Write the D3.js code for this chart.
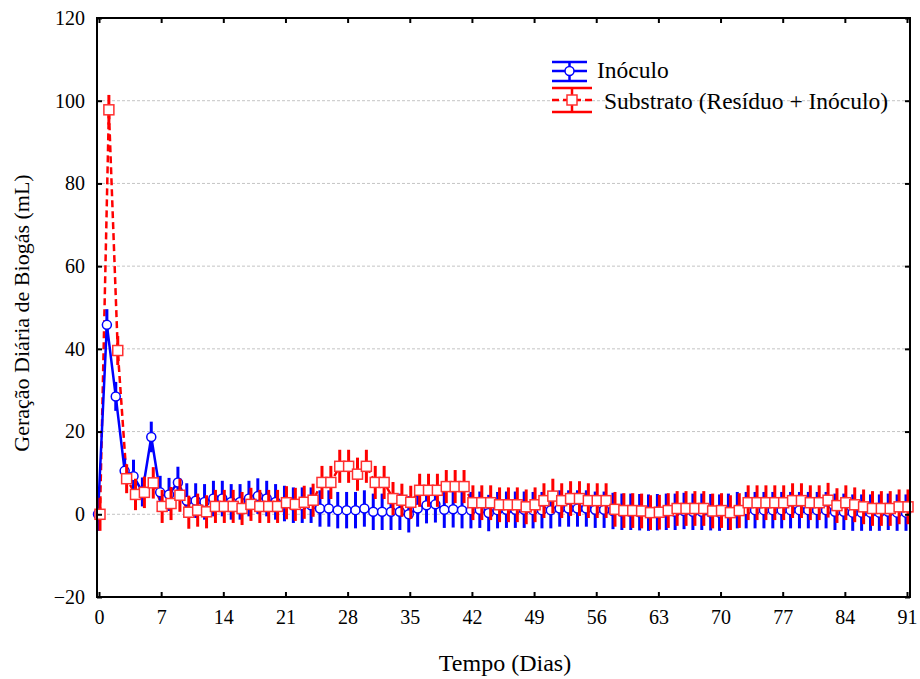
<!DOCTYPE html>
<html>
<head>
<meta charset="utf-8">
<script src="https://cdn.jsdelivr.net/npm/d3@7"></script>
<style>
  body { margin: 0; background: #fff; }
  svg { display: block; font-family: "Liberation Serif", "Times New Roman", serif; }
</style>
</head>
<body>
<svg id="chart" width="920" height="679"></svg>
<script>
// Days 0..91
const days = d3.range(0, 92);

// Inóculo (blue) daily biogas, mL
const inoculo = [
  0, 45.8, 28.5, 10.5, 9.2, 5.4, 18.7, 5.3, 4.8, 7.7,
  3.3, 3.3, 3.0, 3.8, 3.8, 3.0, 3.0, 3.8, 4.4, 3.8,
  3.0, 2.6, 2.2, 2.2, 2.2, 1.4, 1.4, 1.0, 1.0, 1.0,
  1.4, 0.6, 0.6, 0.6, 0.6, 0.0, 1.4, 2.2, 2.4, 1.1,
  1.2, 1.0, 1.0, 1.1, 0.3, 1.0, 1.1, 1.1, 1.1, 1.0,
  1.0, 1.0, 1.4, 1.4, 1.4, 1.4, 1.1, 1.1, 0.8, 0.6,
  0.6, 0.5, 0.4, 0.5, 0.6, 0.6, 0.8, 0.6, 0.6, 0.5,
  0.4, 0.6, 1.0, 1.0, 1.0, 1.0, 1.0, 1.0, 1.0, 1.0,
  1.0, 1.0, 1.0, 0.6, 0.6, 0.4, 0.4, 0.4, 0.4, 0.6,
  0.4, 0.4
];
const inoculoErr = [
  4.0, 3.8, 3.5, 3.0, 4.0, 3.5, 3.7, 4.0, 4.0, 3.8,
  4.2, 4.2, 4.3, 4.3, 4.3, 4.3, 4.3, 4.3, 4.3, 4.3,
  4.3, 4.3, 4.3, 4.3, 4.3, 4.4, 4.4, 4.4, 4.4, 4.4,
  4.4, 4.4, 4.4, 4.4, 4.4, 4.4, 4.4, 4.4, 4.4, 4.4,
  4.4, 4.4, 4.4, 4.4, 4.4, 4.4, 4.4, 4.4, 4.4, 4.4,
  4.4, 4.4, 4.4, 4.4, 4.4, 4.4, 4.4, 4.4, 4.4, 4.4,
  4.4, 4.4, 4.4, 4.4, 4.4, 4.4, 4.4, 4.4, 4.4, 4.4,
  4.4, 4.4, 4.4, 4.4, 4.4, 4.4, 4.4, 4.4, 4.4, 4.4,
  4.4, 4.4, 4.4, 4.4, 4.4, 4.4, 4.4, 4.4, 4.4, 4.4,
  4.4, 4.4
];

// Substrato (Resíduo + Inóculo) (red)
const substrato = [
  0, 97.8, 39.6, 8.6, 4.8, 5.3, 7.6, 1.9, 2.6, 4.6,
  0.5, 1.0, 0.6, 1.9, 1.9, 1.9, 1.4, 2.4, 1.9, 1.9,
  1.9, 2.8, 2.4, 2.9, 3.4, 7.7, 7.7, 11.6, 11.6, 9.7,
  11.6, 7.7, 7.7, 3.8, 3.4, 2.9, 5.8, 5.8, 5.8, 6.7,
  6.7, 6.7, 2.8, 2.8, 2.8, 2.3, 2.3, 2.3, 1.8, 2.3,
  3.3, 4.4, 3.3, 3.8, 3.8, 3.3, 3.3, 3.3, 1.2, 0.9,
  0.9, 0.8, 0.4, 0.5, 0.9, 1.4, 1.4, 1.4, 1.4, 0.8,
  0.9, 0.4, 0.9, 2.8, 2.8, 2.8, 2.8, 2.8, 3.3, 3.3,
  2.8, 2.8, 3.4, 2.1, 2.8, 2.3, 1.8, 1.4, 1.4, 1.4,
  1.8, 1.8
];
const substratoErr = [
  4.0, 3.6, 3.5, 3.5, 3.8, 3.8, 3.8, 4.0, 4.0, 4.0,
  4.0, 4.0, 4.0, 4.0, 4.0, 4.0, 4.0, 4.0, 4.0, 4.0,
  4.0, 4.0, 4.0, 4.0, 4.0, 4.0, 4.0, 4.0, 4.0, 4.0,
  4.0, 4.0, 4.0, 4.0, 4.0, 4.0, 4.0, 4.0, 4.0, 4.0,
  4.0, 4.0, 4.2, 4.2, 4.2, 4.2, 4.2, 4.2, 4.2, 4.2,
  4.2, 4.2, 4.2, 4.2, 4.2, 4.2, 4.2, 4.2, 4.2, 4.2,
  4.2, 4.2, 4.2, 4.2, 4.2, 4.2, 4.2, 4.2, 4.2, 4.2,
  4.2, 4.2, 4.2, 4.2, 4.2, 4.2, 4.2, 4.2, 4.2, 4.2,
  4.2, 4.2, 4.2, 4.2, 4.2, 4.2, 4.2, 4.2, 4.2, 4.2,
  4.2, 4.2
];

const xTicks = d3.range(0, 92, 7);
const yTicks = [-20, 0, 20, 40, 60, 80, 100, 120];

const seriesNames = ['Inóculo', 'Substrato (Resíduo + Inóculo)'];

// Layout
const frame = {left: 97, right: 910, top: 18, bottom: 597};

const svg = d3.select('#chart');

const x = d3.scaleLinear().domain([0, 91]).range([99, 907]);
const y = d3.scaleLinear().domain([-20, 120]).range([frame.bottom, frame.top]);

// Grid lines
svg.append('g')
  .selectAll('line')
  .data(yTicks.filter(t => t > -20 && t < 120))
  .join('line')
    .attr('x1', frame.left).attr('x2', frame.right)
    .attr('y1', d => y(d)).attr('y2', d => y(d))
    .attr('stroke', '#c4c4c4')
    .attr('stroke-width', 1)
    .attr('stroke-dasharray', '3,2');

// Series drawing
const blue = '#0000ff';
const red = '#ff0000';

const blueData = days.map((d, i) => ({d, v: inoculo[i], e: inoculoErr[i]}));
const redData = days.map((d, i) => ({d, v: substrato[i], e: substratoErr[i]}));

const bx = d => x(d.d) - 1;
const rx = d => x(d.d) + 1;

const plot = svg.append('g');

// red dashed line underneath
plot.append('path')
  .datum(redData)
  .attr('fill', 'none')
  .attr('stroke', red)
  .attr('stroke-width', 2.5)
  .attr('stroke-dasharray', '7,4')
  .attr('d', d3.line().x(rx).y(d => y(d.v)));

// blue error bars + line + markers
plot.append('g')
  .selectAll('line')
  .data(blueData)
  .join('line')
    .attr('x1', bx).attr('x2', bx)
    .attr('y1', d => y(d.v - d.e)).attr('y2', d => y(d.v + d.e))
    .attr('stroke', blue)
    .attr('stroke-width', 3);

plot.append('path')
  .datum(blueData)
  .attr('fill', 'none')
  .attr('stroke', blue)
  .attr('stroke-width', 2.5)
  .attr('d', d3.line().x(bx).y(d => y(d.v)));

plot.append('g')
  .selectAll('circle')
  .data(blueData)
  .join('circle')
    .attr('cx', bx).attr('cy', d => y(d.v))
    .attr('r', 4.5)
    .attr('fill', '#fff')
    .attr('stroke', blue)
    .attr('stroke-width', 1.5);

// red error bars + markers
plot.append('g')
  .selectAll('line')
  .data(redData)
  .join('line')
    .attr('x1', rx).attr('x2', rx)
    .attr('y1', d => y(d.v - d.e)).attr('y2', d => y(d.v + d.e))
    .attr('stroke', red)
    .attr('stroke-width', 3);

plot.append('g')
  .selectAll('rect')
  .data(redData)
  .join('rect')
    .attr('x', d => rx(d) - 5).attr('y', d => y(d.v) - 5)
    .attr('width', 10).attr('height', 10)
    .attr('fill', '#fff')
    .attr('stroke', '#ff3030')
    .attr('stroke-width', 1.5);

// Frame
svg.append('rect')
  .attr('x', frame.left).attr('y', frame.top)
  .attr('width', frame.right - frame.left)
  .attr('height', frame.bottom - frame.top)
  .attr('fill', 'none')
  .attr('stroke', '#000')
  .attr('stroke-width', 2);

// Axes (ticks inward)
const yAxisL = svg.append('g')
  .attr('transform', `translate(${frame.left},0)`)
  .call(d3.axisLeft(y).tickValues(yTicks).tickSize(-5).tickPadding(12).tickFormat(d3.format('d')));
const yAxisR = svg.append('g')
  .attr('transform', `translate(${frame.right},0)`)
  .call(d3.axisRight(y).tickValues(yTicks).tickSize(-5).tickFormat(''));
const xAxisB = svg.append('g')
  .attr('transform', `translate(0,${frame.bottom})`)
  .call(d3.axisBottom(x).tickValues(xTicks).tickSize(-5).tickPadding(13));
const xAxisT = svg.append('g')
  .attr('transform', `translate(0,${frame.top})`)
  .call(d3.axisTop(x).tickValues(xTicks).tickSize(-5).tickFormat(''));

[yAxisL, yAxisR, xAxisB, xAxisT].forEach(g => {
  g.select('.domain').remove();
  g.selectAll('.tick line').attr('stroke', '#000').attr('stroke-width', 2);
  g.selectAll('text')
    .attr('fill', '#000')
    .style('font-family', '"Liberation Serif", "Times New Roman", serif')
    .style('font-size', '20px');
});

// Axis titles
svg.append('text')
  .attr('x', 505).attr('y', 671)
  .attr('text-anchor', 'middle')
  .style('font-size', '24px')
  .text('Tempo (Dias)');

svg.append('text')
  .attr('transform', 'translate(29,313) rotate(-90)')
  .attr('text-anchor', 'middle')
  .style('font-size', '22px')
  .text('Geração Diária de Biogás (mL)');

// Legend
const legend = svg.append('g');
const leg = [
  {name: seriesNames[0], color: blue, cy: 71, capTop: 62, capBot: 81, x1: 552, x2: 587, dash: null, mark: 'circle', tx: 597, ty: 78},
  {name: seriesNames[1], color: red, cy: 100, capTop: 88, capBot: 112, x1: 552, x2: 592, dash: '7,4', mark: 'rect', tx: 604, ty: 109}
];
leg.forEach(l => {
  const g = legend.append('g');
  const mx = (l.x1 + l.x2) / 2;
  g.append('line').attr('x1', l.x1).attr('x2', l.x2).attr('y1', l.capTop).attr('y2', l.capTop)
    .attr('stroke', l.color).attr('stroke-width', 2.5);
  g.append('line').attr('x1', l.x1).attr('x2', l.x2).attr('y1', l.capBot).attr('y2', l.capBot)
    .attr('stroke', l.color).attr('stroke-width', 2.5);
  g.append('line').attr('x1', mx).attr('x2', mx).attr('y1', l.capTop).attr('y2', l.capBot)
    .attr('stroke', l.color).attr('stroke-width', 2.5);
  g.append('line').attr('x1', l.x1).attr('x2', l.x2).attr('y1', l.cy).attr('y2', l.cy)
    .attr('stroke', l.color).attr('stroke-width', 2.5)
    .attr('stroke-dasharray', l.dash);
  if (l.mark === 'circle') {
    g.append('circle').attr('cx', mx).attr('cy', l.cy).attr('r', 4.5)
      .attr('fill', '#fff').attr('stroke', l.color).attr('stroke-width', 1.5);
  } else {
    g.append('rect').attr('x', mx - 5).attr('y', l.cy - 5).attr('width', 10).attr('height', 10)
      .attr('fill', '#fff').attr('stroke', '#ff3030').attr('stroke-width', 1.5);
  }
  g.append('text')
    .attr('x', l.tx).attr('y', l.ty)
    .style('font-size', '23.5px')
    .text(l.name);
});
</script>
</body>
</html>
